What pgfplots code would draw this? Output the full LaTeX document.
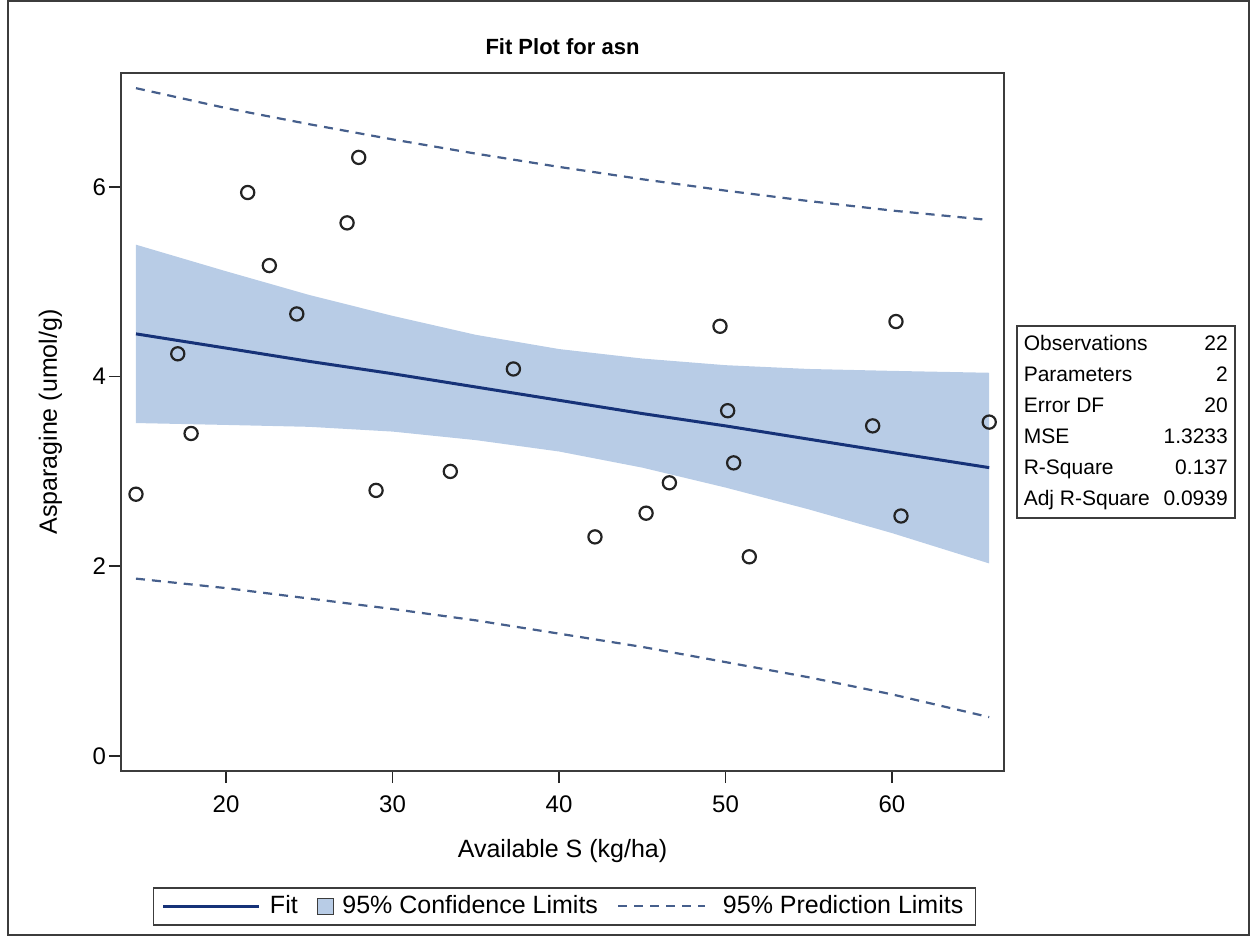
\documentclass[border=0pt]{standalone}
\usepackage{fontspec}
\setmainfont{Liberation Sans}
\usepackage{pgfplots}
\usepackage{pgfplotstable}
\pgfplotsset{compat=1.18}
\usepgfplotslibrary{fillbetween}

\definecolor{bandfill}{RGB}{184,204,230}
\definecolor{fitline}{RGB}{22,50,120}
\definecolor{predline}{RGB}{70,95,140}
\definecolor{markcol}{RGB}{35,35,35}
\definecolor{framecol}{RGB}{60,60,60}

% observed data: available S vs asparagine
\pgfplotstableread{
x y
14.59 2.76
17.10 4.24
17.90 3.40
21.30 5.94
22.60 5.17
24.25 4.66
27.27 5.62
27.97 6.31
29.01 2.80
33.47 3.00
37.26 4.08
42.16 2.31
45.23 2.56
46.63 2.88
49.67 4.53
50.13 3.64
50.49 3.09
51.43 2.10
58.84 3.48
60.24 4.58
60.54 2.53
65.84 3.52
}\obs

% fitted line with confidence and prediction limits
\pgfplotstableread{
x fit clmlo clmup lpl upl
14.59 4.45 3.51 5.39 1.87 7.04
20 4.30 3.49 5.11 1.77 6.83
25 4.16 3.47 4.86 1.66 6.66
30 4.03 3.42 4.64 1.55 6.50
35 3.89 3.33 4.44 1.43 6.35
40 3.75 3.21 4.29 1.29 6.21
45 3.61 3.04 4.19 1.15 6.08
50 3.48 2.83 4.12 0.99 5.96
55 3.34 2.60 4.08 0.83 5.85
60 3.20 2.35 4.06 0.65 5.75
65.84 3.04 2.03 4.04 0.41 5.65
}\band

\begin{document}
\begin{tikzpicture}
\begin{axis}[
  scale only axis, width=441.5pt, height=349pt,
  xmin=13.69, xmax=66.73, ymin=-0.158, ymax=7.20,
  xtick={20,30,40,50,60}, ytick={0,2,4,6},
  tick align=outside, xtick pos=bottom, ytick pos=left,
  major tick length=6pt,
  every tick/.style={black!85, line width=0.9pt},
  axis line style={framecol, line width=1pt},
  tick label style={font=\fontsize{12}{14}\selectfont, /pgf/number format/assume math mode=true},
  xticklabel shift=3pt, yticklabel shift=-2pt,
  xlabel={Available S (kg/ha)}, ylabel={Asparagine (umol/g)},
  label style={font=\fontsize{12.5}{15}\selectfont},
  xlabel style={at={([yshift=-43pt]axis description cs:0.5,0)}, anchor=base},
  ylabel style={at={([xshift=-32pt]axis description cs:0,0.5)}, anchor=base},
  title={Fit Plot for asn},
  title style={at={([yshift=3pt]axis description cs:0.5,1)}, anchor=base, font=\bfseries\fontsize{11}{13}\selectfont},
  legend columns=3,
  legend style={at={([yshift=-58pt,xshift=1pt]axis description cs:0.5,0)}, anchor=north,
    draw=framecol, line width=0.8pt, font=\fontsize{12.5}{14}\selectfont,
    inner xsep=4pt, inner ysep=2pt,
    /tikz/every even column/.append style={column sep=7.5pt}},
]
\addplot[name path=up, draw=none, forget plot] table[x=x, y=clmup]{\band};
\addplot[name path=lo, draw=none, forget plot] table[x=x, y=clmlo]{\band};
\addplot[bandfill, forget plot] fill between[of=up and lo];
\addplot[fitline, line width=1.5pt, forget plot] table[x=x, y=fit]{\band};
\addplot[predline, line width=1.1pt, dash pattern=on 4.5pt off 3.5pt, forget plot] table[x=x, y=upl]{\band};
\addplot[predline, line width=1.1pt, dash pattern=on 4.5pt off 3.5pt, forget plot] table[x=x, y=lpl]{\band};
\addplot[only marks, mark=o, mark size=3.3pt, markcol, line width=1.1pt, forget plot] table[x=x, y=y]{\obs};

\addlegendimage{legend image code/.code={\draw[fitline, line width=1.5pt] (0pt,0pt) -- (48pt,0pt); \path (51pt,0pt);}}
\addlegendentry{Fit}
\addlegendimage{legend image code/.code={\draw[framecol, fill=bandfill, line width=0.8pt] (0pt,-4pt) rectangle (8pt,4pt); \path (10pt,0pt);}}
\addlegendentry{95\% Confidence Limits}
\addlegendimage{legend image code/.code={\draw[predline, line width=1.1pt, dash pattern=on 4.5pt off 3.5pt] (0pt,0pt) -- (43.5pt,0pt); \path (50pt,0pt);}}
\addlegendentry{95\% Prediction Limits}
\end{axis}

% fit statistics box
\node[draw=framecol, line width=0.8pt, anchor=north west, inner xsep=3.5pt, inner ysep=1.5pt,
  font=\fontsize{10.5}{15.5}\selectfont] at (447.5pt,223pt) {%
  \begin{tabular*}{102pt}{@{}l@{\extracolsep{\fill}}r@{}}
  Observations & 22\\
  Parameters & 2\\
  Error DF & 20\\
  MSE & 1.3233\\
  R-Square & 0.137\\
  Adj R-Square & 0.0939
  \end{tabular*}};

% outer frame
\path[use as bounding box] (-60.5pt,-84pt) rectangle (566pt,385.5pt);
\draw[framecol, line width=0.6pt] (-56.5pt,-82pt) rectangle (564pt,385pt);
\end{tikzpicture}
\end{document}
